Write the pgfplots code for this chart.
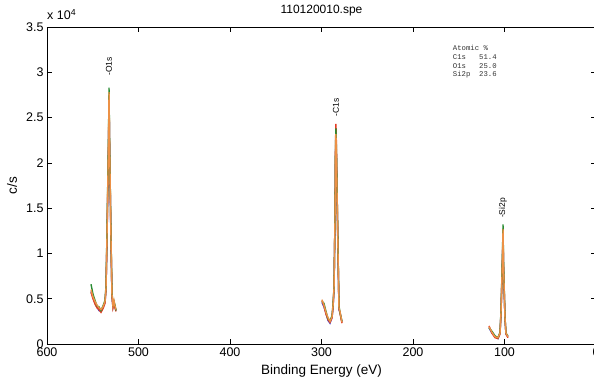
\documentclass[border=0pt]{standalone}
\usepackage{pgfplots}
\usepackage{pgfplotstable}
\pgfplotsset{compat=1.18}
\usepackage{fontspec}
\setmainfont{Liberation Sans}
\newfontfamily\monof{Liberation Mono}

\definecolor{cOr}{RGB}{236,145,70}
\definecolor{cGr}{RGB}{40,140,50}
\definecolor{cRd}{RGB}{228,60,35}
\definecolor{cBl}{RGB}{60,60,200}

\pgfplotstableread{
x y
551.9 0.60
549.7 0.52
547.5 0.47
545.4 0.43
543.2 0.40
541.0 0.38
538.8 0.41
536.6 0.47
535.5 0.62
534.4 1.20
532.7 2.30
532.2 2.78
531.7 2.30
530.1 1.20
529.0 0.55
527.9 0.42
526.8 0.48
525.7 0.42
524.6 0.38
nan nan
299.5 0.49
297.3 0.43
295.1 0.35
292.9 0.29
290.7 0.25
288.5 0.30
287.4 0.42
286.3 0.62
285.2 1.40
284.7 2.10
284.2 2.32
283.7 2.10
282.0 1.05
280.9 0.40
279.8 0.36
277.6 0.24
nan nan
116.9 0.19
113.7 0.13
110.4 0.08
107.1 0.07
104.9 0.12
103.8 0.35
102.1 1.00
101.6 1.27
101.1 0.90
99.5 0.30
98.4 0.12
96.2 0.08
}\tOr

\pgfplotstableread{
x y
551.9 0.66
549.7 0.55
547.5 0.48
545.4 0.42
543.2 0.41
541.0 0.37
538.8 0.42
536.6 0.48
535.5 0.64
534.4 1.25
532.7 2.35
532.2 2.83
531.7 2.32
530.1 1.22
529.0 0.57
527.9 0.44
526.8 0.47
525.7 0.43
524.6 0.37
nan nan
299.5 0.47
297.3 0.45
295.1 0.36
292.9 0.28
290.7 0.26
288.5 0.31
287.4 0.44
286.3 0.63
285.2 1.42
284.7 2.15
284.2 2.38
283.7 2.15
282.0 1.08
280.9 0.42
279.8 0.35
277.6 0.25
nan nan
116.9 0.18
113.7 0.14
110.4 0.09
107.1 0.07
104.9 0.13
103.8 0.37
102.1 1.05
101.6 1.32
101.1 0.93
99.5 0.31
98.4 0.12
96.2 0.09
}\tGr

\pgfplotstableread{
x y
551.9 0.57
549.7 0.50
547.5 0.44
545.4 0.40
543.2 0.38
541.0 0.35
538.8 0.39
536.6 0.45
535.5 0.60
534.4 1.18
532.7 2.26
532.2 2.74
531.7 2.28
530.1 1.18
529.0 0.53
527.9 0.40
526.8 0.45
525.7 0.40
524.6 0.36
nan nan
299.5 0.48
297.3 0.42
295.1 0.33
292.9 0.27
290.7 0.24
288.5 0.29
287.4 0.41
286.3 0.61
285.2 1.45
284.7 2.20
284.2 2.43
283.7 2.20
282.0 1.06
280.9 0.39
279.8 0.34
277.6 0.23
nan nan
116.9 0.20
113.7 0.12
110.4 0.07
107.1 0.06
104.9 0.11
103.8 0.33
102.1 0.98
101.6 1.22
101.1 0.88
99.5 0.29
98.4 0.11
96.2 0.07
}\tRd

\pgfplotstableread{
x y
551.9 0.58
549.7 0.51
547.5 0.45
545.4 0.41
543.2 0.37
541.0 0.36
538.8 0.40
536.6 0.46
535.5 0.61
534.4 1.15
532.7 2.22
532.2 2.72
531.7 2.26
530.1 1.15
529.0 0.52
527.9 0.41
526.8 0.46
525.7 0.41
524.6 0.37
nan nan
299.5 0.46
297.3 0.41
295.1 0.34
292.9 0.26
290.7 0.23
288.5 0.29
287.4 0.40
286.3 0.60
285.2 1.38
284.7 2.05
284.2 2.28
283.7 2.05
282.0 1.02
280.9 0.38
279.8 0.35
277.6 0.24
nan nan
116.9 0.18
113.7 0.12
110.4 0.08
107.1 0.06
104.9 0.12
103.8 0.34
102.1 0.97
101.6 1.20
101.1 0.87
99.5 0.29
98.4 0.11
96.2 0.08
}\tBl

\begin{document}
\begin{tikzpicture}
\useasboundingbox (0pt,0pt) rectangle (594pt,380pt);
\clip (0pt,0pt) rectangle (594pt,380pt);
\begin{axis}[
  at={(47pt,36pt)}, anchor=south west,
  scale only axis, width=549pt, height=317pt,
  x dir=reverse,
  xmin=0, xmax=600, ymin=0, ymax=3.5,
  xtick={0,100,...,600},
  ytick={0,0.5,1,1.5,2,2.5,3,3.5},
  yticklabels={0,0.5,1,1.5,2,2.5,3,3.5},
  tick align=inside,
  major tick length=5pt,
  axis line style={line width=0.8pt},
  every tick/.style={black, line width=0.6pt},
  /pgf/number format/assume math mode=true,
  tick label style={font=\fontsize{12.5}{14}\selectfont},
  xlabel={Binding Energy (eV)},
  xlabel style={at={(axis description cs:0.5,0)}, anchor=center, yshift=-27pt, font=\fontsize{13.5}{15}\selectfont},
  ylabel={c/s},
  ylabel style={at={([xshift=-35pt]axis description cs:0,0.5)}, anchor=center, font=\fontsize{13.5}{15}\selectfont},
  title={110120010.spe},
  title style={at={(axis description cs:0.5,1)}, anchor=center, yshift=10pt, font=\fontsize{12}{14}\selectfont},
  unbounded coords=jump,
]
\addplot[cBl, line width=1.4pt] table[x=x,y=y] {\tBl};
\addplot[cRd, line width=1.4pt] table[x=x,y=y] {\tRd};
\addplot[cGr, line width=1.4pt] table[x=x,y=y] {\tGr};
\addplot[cOr, line width=1.4pt] table[x=x,y=y] {\tOr};
\node[rotate=90, anchor=west, inner sep=0pt, font=\fontsize{8.5}{10}\selectfont] at (axis cs:532.2,2.96) {-O1s};
\node[rotate=90, anchor=west, inner sep=0pt, font=\fontsize{8.5}{10}\selectfont] at (axis cs:284.2,2.51) {-C1s};
\node[rotate=90, anchor=west, inner sep=0pt, font=\fontsize{8.5}{10}\selectfont] at (axis cs:101.6,1.39) {-Si2p};
\end{axis}
\node[anchor=base west, inner sep=0pt, font=\fontsize{12.5}{14}\selectfont] at (47pt,360pt) {x 10\textsuperscript{4}};
\begin{scope}[font=\monof\fontsize{7.3}{8}\selectfont, black!80]
\node[anchor=west, inner sep=0pt] at (452.7pt,331.7pt) {Atomic~\%};
\node[anchor=west, inner sep=0pt] at (452.7pt,323.3pt) {C1s~~~51.4};
\node[anchor=west, inner sep=0pt] at (452.7pt,314.3pt) {O1s~~~25.0};
\node[anchor=west, inner sep=0pt] at (452.7pt,305.7pt) {Si2p~~23.6};
\end{scope}
\end{tikzpicture}
\end{document}
